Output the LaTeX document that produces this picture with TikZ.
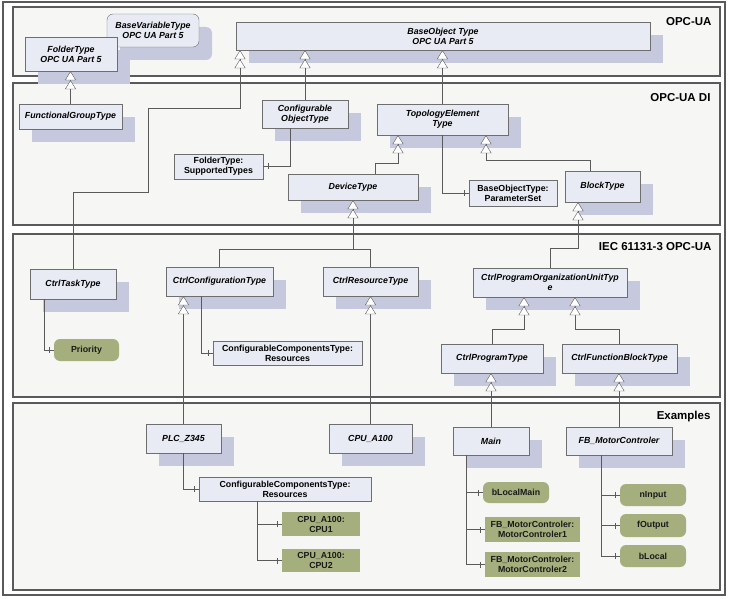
\documentclass[tikz,border=0pt]{standalone}
\usepackage{fontspec}
\setmainfont{Liberation Sans}
\usetikzlibrary{arrows.meta,positioning,shadows,decorations.markings}
\definecolor{panelfill}{HTML}{F6F6F5}
\definecolor{boxfill}{HTML}{E8EBF3}
\definecolor{shadowc}{HTML}{C6C8DD}
\definecolor{boxline}{HTML}{6E6E6E}
\definecolor{linec}{HTML}{5A5A5A}
\definecolor{varfill}{HTML}{A4AF7D}
\tikzset{
    %Define standard arrow tip
    >={Triangle[width=11pt,length=9pt,fill=white]},
    %Define style for panels
    panel/.style={
           draw=linec, line width=1.2pt,
           fill=panelfill},
    paneltitle/.style={
           anchor=east,
           font=\fontsize{11.5}{13}\selectfont\bfseries},
    %Define style for type boxes
    typebox/.style={
           rectangle,
           draw=boxline, thin,
           fill=boxfill,
           drop shadow={shadow xshift=13pt,shadow yshift=-13pt,
                        fill=shadowc,opacity=1},
           inner sep=1pt,
           align=center,
           font=\fontsize{8.8}{10}\selectfont\bfseries\itshape},
    refbox/.style={
           rectangle,
           draw=boxline, thin,
           fill=boxfill,
           inner sep=1pt,
           align=center,
           font=\fontsize{8.8}{10}\selectfont\bfseries},
    varbox/.style={
           rectangle,
           rounded corners=6pt,
           fill=varfill,
           inner sep=1pt,
           align=center,
           text=black!90,
           font=\fontsize{8.8}{10}\selectfont\bfseries},
    objbox/.style={
           varbox,
           rounded corners=0pt},
    % Define connector styles
    sub/.style={
           draw=linec, thin,
           -{Triangle[width=11pt,length=9pt,fill=white]Triangle[width=11pt,length=9pt,fill=white]}},
    conn/.style={draw=linec, thin},
    comp/.style={
           draw=linec, thin,
           postaction={decorate,decoration={markings,
              mark=at position -5pt with {\draw[linec,thin] (0,-3pt) -- (0,3pt);}}}}
}
\begin{document}
\begin{tikzpicture}[x=1pt,y=-1pt]
\useasboundingbox (0,0) rectangle (729,599);
\draw[draw=linec, line width=1.2pt, fill=white] (3,2) rectangle (725,595);

% panels
\draw[panel] (13,7) rectangle (720,76);
\draw[panel] (13,83) rectangle (720,225);
\draw[panel] (13,234) rectangle (720,397);
\draw[panel] (13,403) rectangle (720,590);
\node[paneltitle] (topc) at (715,22) {OPC-UA};
\node[paneltitle] (tdi) at (714,98) {OPC-UA DI};
\node[paneltitle] (tiec) at (715,247) {IEC 61131-3 OPC-UA};
\node[paneltitle] (tex) at (714,417) {Examples};

% OPC-UA
\node[typebox, rounded corners=6pt, minimum width=92pt, minimum height=33pt] (basevar) at (153,30.5) {BaseVariableType\\OPC UA Part 5};
\node[typebox, minimum width=92pt, minimum height=34pt] (fold) at (71,54) {FolderType\\OPC UA Part 5};
\node[typebox, minimum width=414pt, minimum height=28pt] (baseobj) at (443,36) {BaseObject Type\\OPC UA Part 5};

% OPC-UA DI
\node[typebox, minimum width=103pt, minimum height=25pt] (fgt) at (70.5,116.5) {FunctionalGroupType};
\node[typebox, minimum width=86pt, minimum height=28pt] (cfg) at (305,114) {Configurable\\ObjectType};
\node[refbox, minimum width=89pt, minimum height=25pt] (supp) at (218.5,166.5) {FolderType:\\SupportedTypes};
\node[typebox, minimum width=131pt, minimum height=31pt] (topo) at (442.5,119.5) {TopologyElement\\Type};
\node[typebox, minimum width=130pt, minimum height=26pt] (dev) at (353,187) {DeviceType};
\node[refbox, minimum width=88pt, minimum height=26pt] (pset) at (513,193) {BaseObjectType:\\ParameterSet};
\node[typebox, minimum width=75pt, minimum height=31pt] (blk) at (602.5,186.5) {BlockType};

% IEC 61131-3
\node[typebox, minimum width=86pt, minimum height=30pt] (task) at (73,284) {CtrlTaskType};
\node[typebox, minimum width=107pt, minimum height=29pt] (conf) at (219.5,281.5) {CtrlConfigurationType};
\node[typebox, minimum width=95pt, minimum height=29pt] (res) at (370.5,281.5) {CtrlResourceType};
\node[typebox, minimum width=154pt, minimum height=29pt] (pou) at (550,282.5) {CtrlProgramOrganizationUnitTyp\\e};
\node[typebox, minimum width=102pt, minimum height=29pt] (prog) at (492,358.5) {CtrlProgramType};
\node[typebox, minimum width=115pt, minimum height=29pt] (fb) at (619.5,358.5) {CtrlFunctionBlockType};
\node[varbox, minimum width=65pt, minimum height=22pt] (prio) at (86.5,350) {Priority};
\node[refbox, minimum width=149pt, minimum height=24pt] (ccres) at (287.5,353) {ConfigurableComponentsType:\\Resources};

% Examples
\node[typebox, minimum width=75pt, minimum height=29pt] (plc) at (183.5,438.5) {PLC\_Z345};
\node[typebox, minimum width=83pt, minimum height=29pt] (cpu) at (370.5,438.5) {CPU\_A100};
\node[typebox, minimum width=76pt, minimum height=28pt] (main) at (491,441) {Main};
\node[typebox, minimum width=106pt, minimum height=28pt] (fbm) at (619,441) {FB\_MotorControler};
\node[refbox, minimum width=172pt, minimum height=24pt] (ccres2) at (285,489) {ConfigurableComponentsType:\\Resources};
\node[objbox, minimum width=78pt, minimum height=24pt] (cpu1) at (321,524) {CPU\_A100:\\CPU1};
\node[objbox, minimum width=78pt, minimum height=23pt] (cpu2) at (321,560.5) {CPU\_A100:\\CPU2};
\node[varbox, minimum width=66pt, minimum height=21pt] (blm) at (516,492.5) {bLocalMain};
\node[objbox, minimum width=95pt, minimum height=25pt] (mc1) at (532.5,529.5) {FB\_MotorControler:\\MotorControler1};
\node[objbox, minimum width=95pt, minimum height=25pt] (mc2) at (532.5,564.5) {FB\_MotorControler:\\MotorControler2};
\node[varbox, minimum width=66pt, minimum height=22pt] (nin) at (653,495) {nInput};
\node[varbox, minimum width=66pt, minimum height=23pt] (fout) at (653,525.5) {fOutput};
\node[varbox, minimum width=66pt, minimum height=22pt] (bloc) at (653,556) {bLocal};

% bends
\coordinate (b1) at (240,108);
\coordinate (b2) at (398,163);
\coordinate (b3) at (486,160);
\coordinate (b4) at (578,248);
\coordinate (b5) at (353,249);
\coordinate (b6) at (524,329);
\coordinate (b7) at (575,329);

% subtype links
\draw[sub] (fgt.north) -- (fgt.north |- fold.south);
\draw[sub] (task.north) |- (148,192) |- (b1) -- (b1 |- baseobj.south);
\draw[sub] (cfg.north) -- (cfg.north |- baseobj.south);
\draw[sub] (topo.north) -- (topo.north |- baseobj.south);
\draw[sub] ([xshift=22pt]dev.north) |- (b2) -- (b2 |- topo.south);
\draw[sub] ([xshift=-12.5pt]blk.north) |- (b3) -- (b3 |- topo.south);
\draw[sub] (pou.north) |- (b4) -- (b4 |- blk.south);
\draw[sub] (conf.north) |- (b5) -- (dev.south);
\draw[conn] (res.north) |- (b5);
\draw[sub] (prog.north) |- (b6) -- (b6 |- pou.south);
\draw[sub] (fb.north) |- (b7) -- (b7 |- pou.south);
\draw[sub] (plc.north) -- (plc.north |- conf.south);
\draw[sub] (cpu.north) -- (cpu.north |- res.south);
\draw[sub] (main.north) -- (main.north |- prog.south);
\draw[sub] (fbm.north) -- (fbm.north |- fb.south);

% component links
\draw[comp] ([xshift=-15pt]cfg.south) |- (supp.east);
\draw[comp] (topo.south) |- (pset.west);
\draw[comp] ([xshift=-29pt]task.south) |- (prio.west);
\draw[comp] ([xshift=-18.5pt]conf.south) |- (ccres.west);
\draw[comp] (plc.south) |- (ccres2.west);
\draw[comp] ([xshift=-28pt]ccres2.south) |- (cpu1.west);
\draw[comp] ([xshift=-28pt]ccres2.south) |- (cpu2.west);
\draw[comp] ([xshift=-25pt]main.south) |- (blm.west);
\draw[comp] ([xshift=-25pt]main.south) |- (mc1.west);
\draw[comp] ([xshift=-25pt]main.south) |- (mc2.west);
\draw[comp] ([xshift=-18pt]fbm.south) |- (nin.west);
\draw[comp] ([xshift=-18pt]fbm.south) |- (fout.west);
\draw[comp] ([xshift=-18pt]fbm.south) |- (bloc.west);
\end{tikzpicture}
\end{document}
